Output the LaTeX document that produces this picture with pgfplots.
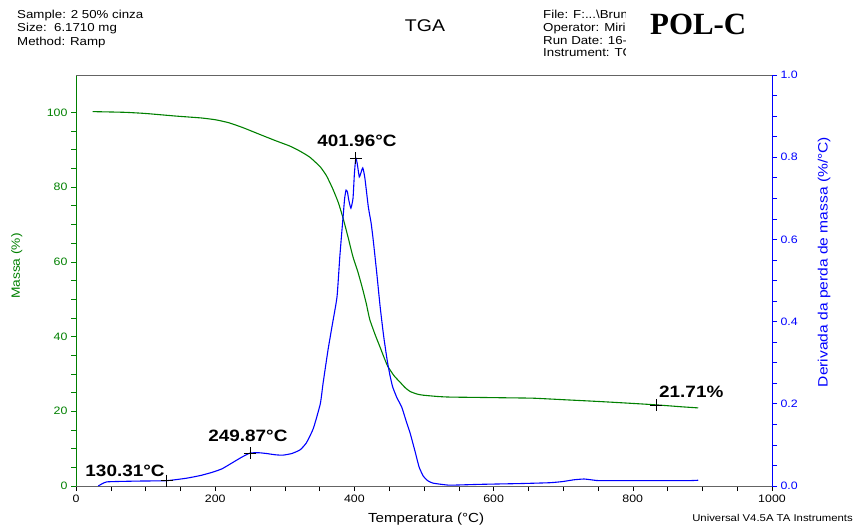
\documentclass[border=0pt]{standalone}
\usepackage{fontspec}
\setmainfont{Liberation Sans}[FakeStretch=1.15]
\newfontfamily\timesfont{Liberation Serif}
\usepackage{pgfplots}
\pgfplotsset{compat=1.18}
\definecolor{mgreen}{RGB}{0,128,0}
\definecolor{mblue}{RGB}{0,0,255}
\definecolor{frame}{RGB}{100,100,100}
\begin{document}
\begin{tikzpicture}
\path[use as bounding box] (0,0) rectangle (854bp,529bp);
% header
\begin{scope}[every node/.style={inner sep=0pt, anchor=base west, font=\fontsize{11.6}{13}\selectfont}]
\node at (17bp,510bp) {Sample: 2 50\% cinza};
\node at (17bp,497bp) {Size:\ \ 6.1710 mg};
\node at (17bp,483.5bp) {Method: Ramp};
\end{scope}
\node[inner sep=0pt, anchor=base, font=\fontsize{17}{19}\selectfont] at (425bp,497bp) {TGA};
\begin{scope}
\clip (540bp,440bp) rectangle (625bp,529bp);
\begin{scope}[every node/.style={inner sep=0pt, anchor=base west, font=\fontsize{11.6}{13}\selectfont}]
\node at (543bp,510.5bp) {File: F:...\textbackslash Brun};
\node at (543bp,497.5bp) {Operator: Miri};
\node at (543bp,484.5bp) {Run Date: 16-};
\node at (543bp,472bp) {Instrument: TG};
\end{scope}
\end{scope}
\node[inner sep=0pt, anchor=base west, font=\timesfont\bfseries\fontsize{31}{33}\selectfont] at (650bp,494bp) {POL-C};
\node[inner sep=0pt, anchor=base east, font=\fontsize{9.9}{11}\selectfont] at (853bp,8bp) {Universal V4.5A TA Instruments};

% left axis: mass
\begin{axis}[
  at={(76bp,43bp)}, anchor=south west,
  width=696bp, height=411bp, scale only axis,
  xmin=0, xmax=1000, ymin=0, ymax=110,
  axis x line*=bottom, axis y line*=left,
  x axis line style={-, color=frame, line width=0.8bp},
  y axis line style={-, color=mgreen, line width=0.8bp},
  xtick={0,200,...,1000}, minor x tick num=3,
  ytick={0,20,...,100}, minor y tick num=3,
  tick align=outside,
  major tick length=5bp, minor tick length=5bp,
  xtick style={color=black, line width=0.6bp},
  ytick style={color=mgreen, line width=0.6bp},
  /pgf/number format/assume math mode=true,
  /pgf/number format/set thousands separator={},
  ticklabel style={font=\fontsize{10.8}{12}\selectfont},
  yticklabel style={color=mgreen},
  xlabel={Temperatura (°C)},
  xlabel style={at={(axis description cs:0.503,-0.080)}, anchor=center, font=\fontsize{13.2}{15}\selectfont},
  ylabel={Massa (\%)},
  ylabel style={at={(axis description cs:-0.085,0.535)}, anchor=center, color=mgreen, font=\fontsize{12}{14}\selectfont},
  clip=false,
]
\addplot[mgreen, line width=1.1bp, smooth, tension=0.3] coordinates {
(24,100.2) (50,100.1) (72,100.0) (100,99.7) (144,99.0) (180,98.5) (201,98.0)
(220,97.2) (240,95.9) (264,94.1) (287,92.4) (307,91.0) (322,89.6) (336,88.0)
(351,85.4) (360,83.0) (369,79.5) (377,75.8) (384,71.5) (391,66.5) (398,61.3)
(405,57.3) (411,53.3) (417,48.9) (422,44.6) (430,40.4) (437,37.1) (443,34.2)
(448,32.0) (457,29.5) (466,27.7) (473,26.3) (480,25.3) (490,24.6) (499,24.3)
(520,23.95) (537,23.8) (580,23.7) (620,23.6) (657,23.5) (700,23.1) (753,22.6)
(800,22.1) (834,21.71) (870,21.2) (894,20.9)
};
\addplot[black, only marks, mark=+, mark size=6bp, line width=0.6bp] coordinates {(834,21.71)};
\node[inner sep=0pt, anchor=base, font=\bfseries\fontsize{16.5}{18}\selectfont] at (axis cs:70.4,2.49) {130.31°C};
\node[inner sep=0pt, anchor=base, font=\bfseries\fontsize{16.5}{18}\selectfont] at (axis cs:247,12.0) {249.87°C};
\node[inner sep=0pt, anchor=base, font=\bfseries\fontsize{16.5}{18}\selectfont] at (axis cs:403.7,90.8) {401.96°C};
\node[inner sep=0pt, anchor=base, font=\bfseries\fontsize{16.5}{18}\selectfont] at (axis cs:884,23.6) {21.71\%};
\end{axis}

% right axis: derivative
\begin{axis}[
  at={(76bp,43bp)}, anchor=south west,
  width=696bp, height=411bp, scale only axis,
  xmin=0, xmax=1000, ymin=0, ymax=1,
  axis x line*=top, axis y line*=right,
  x axis line style={-, color=frame, line width=0.8bp},
  y axis line style={-, color=mblue, line width=0.8bp},
  xtick=\empty,
  ytick={0,0.2,...,1.0}, minor y tick num=3,
  tick align=outside,
  major tick length=5bp, minor tick length=5bp,
  ytick style={color=mblue, line width=0.6bp},
  /pgf/number format/assume math mode=true,
  /pgf/number format/fixed, /pgf/number format/fixed zerofill, /pgf/number format/precision=1,
  ticklabel style={font=\fontsize{10.8}{12}\selectfont},
  yticklabel style={color=mblue},
  ylabel={Derivada da perda de massa (\%/°C)},
  ylabel style={at={(axis description cs:1.0747,0.545)}, anchor=center, rotate=0, color=mblue, font=\fontsize{13.6}{15}\selectfont},
  clip=false,
]
\addplot[mblue, line width=1.1bp, smooth, tension=0.3] coordinates {
(32,0.000) (38,0.006) (44,0.010) (60,0.011) (90,0.012) (130,0.013) (159,0.019)
(180,0.026) (197,0.034) (210,0.042) (226,0.058) (238,0.070) (250,0.080) (262,0.081)
(274,0.079) (286,0.076) (297,0.075) (310,0.079) (322,0.088) (331,0.105) (341,0.14)
(351,0.20) (355,0.25) (362,0.33) (368,0.39) (375,0.46) (379,0.557) (382,0.62)
(384,0.660) (386,0.700) (388,0.720) (390,0.715) (392,0.695) (395,0.676) (398,0.70)
(400,0.760) (402,0.798) (404,0.785) (407,0.752) (409,0.760) (412,0.774) (415,0.750)
(420,0.679) (424,0.640) (427,0.599) (432,0.520) (437,0.436) (442,0.365) (447,0.307)
(451,0.270) (455,0.241) (461,0.215) (468,0.192) (474,0.160) (480,0.129) (487,0.085)
(493,0.046) (499,0.024) (506,0.012) (513,0.007) (525,0.004) (537,0.002) (560,0.003)
(580,0.004) (609,0.005) (640,0.006) (681,0.008) (700,0.011) (715,0.015) (730,0.017)
(745,0.014) (753,0.013) (800,0.013) (850,0.013) (880,0.013) (894,0.014)
};
\addplot[black, only marks, mark=+, mark size=6bp, line width=0.6bp] coordinates {(130.31,0.013) (249.87,0.080) (401.96,0.798)};
\end{axis}
\end{tikzpicture}
\end{document}
